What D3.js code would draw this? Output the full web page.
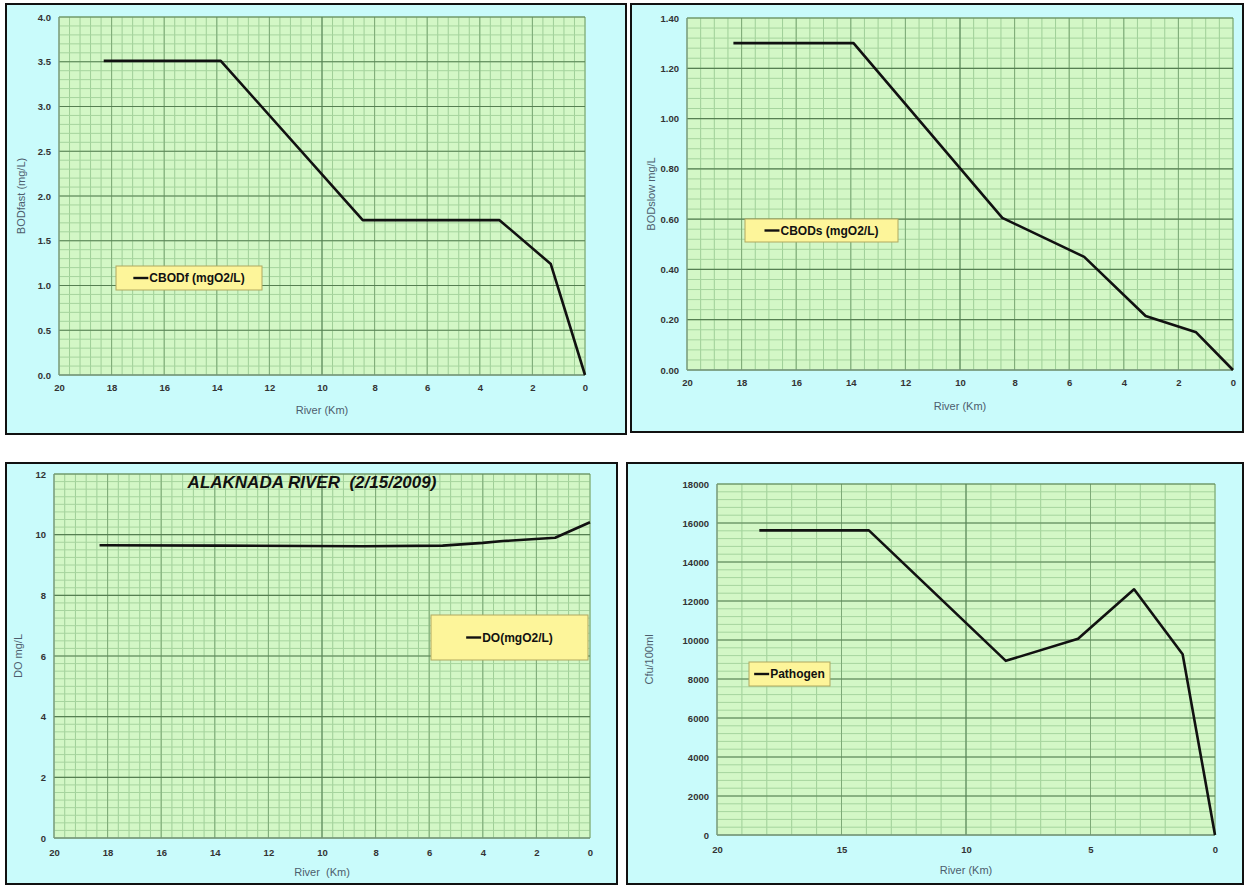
<!DOCTYPE html>
<html>
<head>
<meta charset="utf-8">
<script src="https://cdn.jsdelivr.net/npm/d3@7"></script>
<style>
  body { margin: 0; background: #fff; }
  svg { display: block; font-family: "Liberation Sans", Arial, sans-serif; }
  .tick-label { font-size: 9.5px; font-weight: bold; fill: #333; }
  .axis-title { font-size: 11px; fill: #4d5d6d; white-space: pre; }
  .legend-text { font-size: 12px; font-weight: bold; fill: #111; }
  .chart-title { white-space: pre; }
</style>
</head>
<body>
<div id="chart"></div>
<script>
// River distance (km) and modelled values
const kmBodFast = [18.3, 13.85, 8.45, 5.45, 3.25, 1.3, 0];
const bodFast = [3.51, 3.51, 1.73, 1.73, 1.73, 1.24, 0];

const kmBodSlow = [18.3, 13.9, 8.45, 5.45, 3.2, 1.35, 0];
const bodSlow = [1.30, 1.30, 0.605, 0.45, 0.215, 0.15, 0];

const kmDo = [18.3, 13.85, 8.45, 5.5, 4.0, 3.25, 1.3, 0];
const doVals = [9.65, 9.64, 9.62, 9.64, 9.73, 9.79, 9.9, 10.41];

const kmPathogen = [18.3, 13.9, 8.4, 5.5, 3.25, 1.3, 0];
const pathogen = [15620, 15620, 8930, 10060, 12600, 9270, 0];

const panels = [
  {
    border: [6, 4, 626, 434], plot: { l: 59, r: 585, t: 17, b: 375 },
    km: kmBodFast, values: bodFast,
    yMax: 4, yStep: 0.5, yMinor: 0.1, yFormat: ".1f",
    xStep: 2, xMinor: 0.4,
    xLabelY: 391, xTitleY: 414, xTitle: "River (Km)",
    yTitleX: 21, yTitle: "BODfast (mg/L)",
    legend: [116, 266, 262, 290], legendText: "CBODf (mgO2/L)"
  },
  {
    border: [631, 4, 1243, 432], plot: { l: 687, r: 1233, t: 18, b: 370 },
    km: kmBodSlow, values: bodSlow,
    yMax: 1.4, yStep: 0.2, yMinor: 0.04, yFormat: ".2f",
    xStep: 2, xMinor: 0.5,
    xLabelY: 386, xTitleY: 410, xTitle: "River (Km)",
    yTitleX: 651, yTitle: "BODslow mg/L",
    legend: [745, 219, 898, 242], legendText: "CBODs (mgO2/L)"
  },
  {
    border: [6, 463, 617, 884], plot: { l: 54, r: 590, t: 474, b: 838 },
    km: kmDo, values: doVals,
    yMax: 12, yStep: 2, yMinor: 0.25, yFormat: "d",
    xStep: 2, xMinor: 0.4,
    xLabelY: 856, xTitleY: 876, xTitle: "River  (Km)",
    yTitleX: 18, yTitle: "DO mg/L",
    legend: [431, 615, 588, 660], legendText: "DO(mgO2/L)",
    title: "ALAKNADA RIVER  (2/15/2009)"
  },
  {
    border: [627, 463, 1243, 884], plot: { l: 717, r: 1215, t: 484, b: 835 },
    km: kmPathogen, values: pathogen,
    yMax: 18000, yStep: 2000, yMinor: 400, yFormat: "d",
    xStep: 5, xMinor: 1,
    xLabelY: 853, xTitleY: 874, xTitle: "River (Km)",
    yTitleX: 649, yTitle: "Cfu/100ml",
    legend: [749, 662, 830, 686], legendText: "Pathogen"
  }
];

const svg = d3.select("#chart").append("svg")
  .attr("width", 1247)
  .attr("height", 885);

function steps(max, step) {
  const n = Math.round(max / step);
  return d3.range(0, n + 1).map((i) => +(i * step).toFixed(6));
}

function drawPanel(p) {
  const [bx0, by0, bx1, by1] = p.border;
  const g = svg.append("g");

  g.append("rect")
    .attr("x", bx0).attr("y", by0)
    .attr("width", bx1 - bx0).attr("height", by1 - by0)
    .attr("fill", "#c9fbfb")
    .attr("stroke", "#111")
    .attr("stroke-width", 2);

  const x = d3.scaleLinear().domain([20, 0]).range([p.plot.l, p.plot.r]);
  const y = d3.scaleLinear().domain([0, p.yMax]).range([p.plot.b, p.plot.t]);

  g.append("rect")
    .attr("x", p.plot.l).attr("y", p.plot.t)
    .attr("width", p.plot.r - p.plot.l).attr("height", p.plot.b - p.plot.t)
    .attr("fill", "#d3f7c6");

  // minor grid
  g.selectAll(".vminor")
    .data(steps(20, p.xMinor))
    .join("line")
    .attr("x1", (d) => x(d)).attr("x2", (d) => x(d))
    .attr("y1", p.plot.t).attr("y2", p.plot.b)
    .attr("stroke", "#9fcf98").attr("stroke-width", 1);

  g.selectAll(".hminor")
    .data(steps(p.yMax, p.yMinor))
    .join("line")
    .attr("x1", p.plot.l).attr("x2", p.plot.r)
    .attr("y1", (d) => y(d)).attr("y2", (d) => y(d))
    .attr("stroke", "#a6d49e").attr("stroke-width", 1);

  // major grid
  g.selectAll(".vmajor")
    .data(steps(20, p.xStep))
    .join("line")
    .attr("x1", (d) => x(d)).attr("x2", (d) => x(d))
    .attr("y1", p.plot.t).attr("y2", p.plot.b)
    .attr("stroke", (d) => (d === 10 ? "#4f7a4f" : "#7eaa78"))
    .attr("stroke-width", 1);

  g.selectAll(".hmajor")
    .data(steps(p.yMax, p.yStep))
    .join("line")
    .attr("x1", p.plot.l).attr("x2", p.plot.r)
    .attr("y1", (d) => y(d)).attr("y2", (d) => y(d))
    .attr("stroke", "#567f52").attr("stroke-width", 1.2);

  // axes (labels only, Excel style)
  const yAxis = g.append("g")
    .attr("transform", `translate(${p.plot.l - 4},0)`)
    .call(d3.axisLeft(y).tickValues(steps(p.yMax, p.yStep))
      .tickFormat(d3.format(p.yFormat)).tickSize(0).tickPadding(4));
  yAxis.select(".domain").remove();
  yAxis.selectAll("text").attr("class", "tick-label");

  const xAxis = g.append("g")
    .attr("transform", `translate(0,${p.xLabelY - 7})`)
    .call(d3.axisBottom(x).tickValues(steps(20, p.xStep))
      .tickFormat(d3.format("d")).tickSize(0).tickPadding(0));
  xAxis.select(".domain").remove();
  xAxis.selectAll("text").attr("class", "tick-label");

  g.append("line")
    .attr("x1", p.plot.l).attr("x2", p.plot.r)
    .attr("y1", p.plot.b).attr("y2", p.plot.b)
    .attr("stroke", "#7f9a88").attr("stroke-width", 1);
  g.append("line")
    .attr("x1", p.plot.l).attr("x2", p.plot.l)
    .attr("y1", p.plot.t).attr("y2", p.plot.b)
    .attr("stroke", "#7f9a88").attr("stroke-width", 1);

  g.append("text")
    .attr("class", "axis-title")
    .attr("x", (p.plot.l + p.plot.r) / 2)
    .attr("y", p.xTitleY)
    .attr("text-anchor", "middle")
    .text(p.xTitle);

  g.append("text")
    .attr("class", "axis-title")
    .attr("transform", `translate(${p.yTitleX},${(p.plot.t + p.plot.b) / 2}) rotate(-90)`)
    .attr("text-anchor", "middle")
    .attr("dy", "0.35em")
    .text(p.yTitle);

  // data line
  const pts = p.km.map((k, i) => [k, p.values[i]]);
  g.append("path")
    .datum(pts)
    .attr("fill", "none")
    .attr("stroke", "#111")
    .attr("stroke-width", 2.6)
    .attr("stroke-linejoin", "round")
    .attr("d", d3.line().x((d) => x(d[0])).y((d) => y(d[1])));

  if (p.title) {
    g.append("text")
      .attr("class", "chart-title")
      .attr("x", 312)
      .attr("y", p.plot.t + 14)
      .attr("text-anchor", "middle")
      .attr("font-size", 17)
      .attr("font-weight", "bold")
      .attr("font-style", "italic")
      .attr("fill", "#111")
      .text(p.title);
  }

  // legend
  const [lx0, ly0, lx1, ly1] = p.legend;
  g.append("rect")
    .attr("x", lx0).attr("y", ly0)
    .attr("width", lx1 - lx0).attr("height", ly1 - ly0)
    .attr("fill", "#fdf59a")
    .attr("stroke", "#b0a860")
    .attr("stroke-width", 1);
  const cy = (ly0 + ly1) / 2;
  const lg = g.append("g");
  lg.append("line")
    .attr("x1", 0).attr("x2", 15)
    .attr("y1", 0).attr("y2", 0)
    .attr("stroke", "#111").attr("stroke-width", 2.4);
  lg.append("text")
    .attr("class", "legend-text")
    .attr("x", 16)
    .attr("dy", "0.35em")
    .text(p.legendText);
  const w = lg.node().getBBox().width;
  lg.attr("transform", `translate(${(lx0 + lx1) / 2 - w / 2},${cy})`);
}

panels.forEach(drawPanel);
</script>
</body>
</html>
